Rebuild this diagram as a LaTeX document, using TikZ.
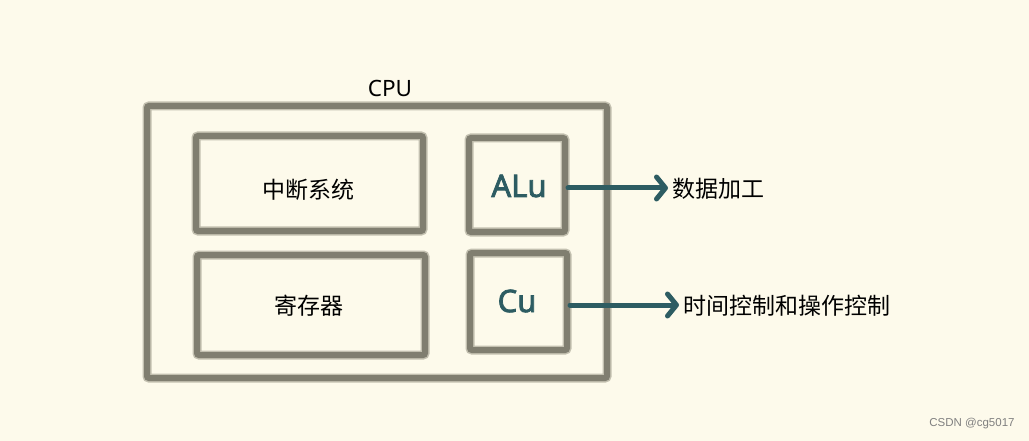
\documentclass[tikz,border=0pt]{standalone}
\usepackage{fontspec}
\setmainfont{Noto Sans CJK SC}
\newfontfamily\latinfont{Noto Sans}
\newfontfamily\unitfont[FakeBold=2.5]{Noto Sans}
\newfontfamily\wmfont{Liberation Sans}
\usetikzlibrary{arrows.meta}
\definecolor{bgc}{RGB}{253,250,235}
\definecolor{boxc}{RGB}{128,126,112}
\definecolor{boxglow}{RGB}{195,192,176}
\definecolor{tealc}{RGB}{45,92,98}
\tikzset{
  boxnode/.style={draw=boxc, line width=6pt, rounded corners=2pt, inner sep=0pt,
    preaction={draw=boxglow, line width=9pt, rounded corners=3pt}},
  cjk/.style={font=\fontsize{23}{25}\selectfont, text=black, inner sep=0pt},
  unitlabel/.style={font=\unitfont\fontsize{31}{34}\selectfont, text=tealc, inner sep=0pt},
  arr/.style={draw=tealc, line width=5pt, line cap=round,
    -{Straight Barb[round, length=9pt, width=22pt]}}
}
\begin{document}
\begin{tikzpicture}[x=1pt,y=-1pt]
\fill[bgc] (0,0) rectangle (1029,441);
\useasboundingbox (0,0) rectangle (1029,441);
% boxes
\node[boxnode, minimum width=460pt, minimum height=272pt] (outer) at (377,242) {};
\node[boxnode, minimum width=227pt, minimum height=95pt] (intr) at (309.5,183.5) {};
\node[boxnode, minimum width=228pt, minimum height=100pt] (reg) at (311,305) {};
\node[boxnode, minimum width=96pt, minimum height=94pt] (alu) at (517,185) {};
\node[boxnode, minimum width=97pt, minimum height=97pt] (cu) at (518.5,301.5) {};
% labels
\node[font=\latinfont\fontsize{22.5}{24}\selectfont, inner sep=0pt] (cpu) at (390,88) {CPU};
\node[cjk] (intrl) at (308,190) {中断系统};
\node[cjk] (regl) at (309,306) {寄存器};
\node[unitlabel] (alul) at (519,186) {ALu};
\node[unitlabel] (cul) at (517,301) {Cu};
% arrows
\coordinate (t1) at (668,188);
\coordinate (t2) at (679,305);
\draw[arr] (alu.east |- t1) -- (t1);
\draw[arr] (cu.east |- t2) -- (t2);
\node[cjk, anchor=west] (datal) at (672,189) {数据加工};
\node[cjk, anchor=west] (ctrll) at (683,306) {时间控制和操作控制};
% watermark
\node[font=\wmfont\fontsize{11.5}{13}\selectfont, text=gray, inner sep=0pt] (wm) at (972,424) {CSDN @cg5017};
\end{tikzpicture}
\end{document}
